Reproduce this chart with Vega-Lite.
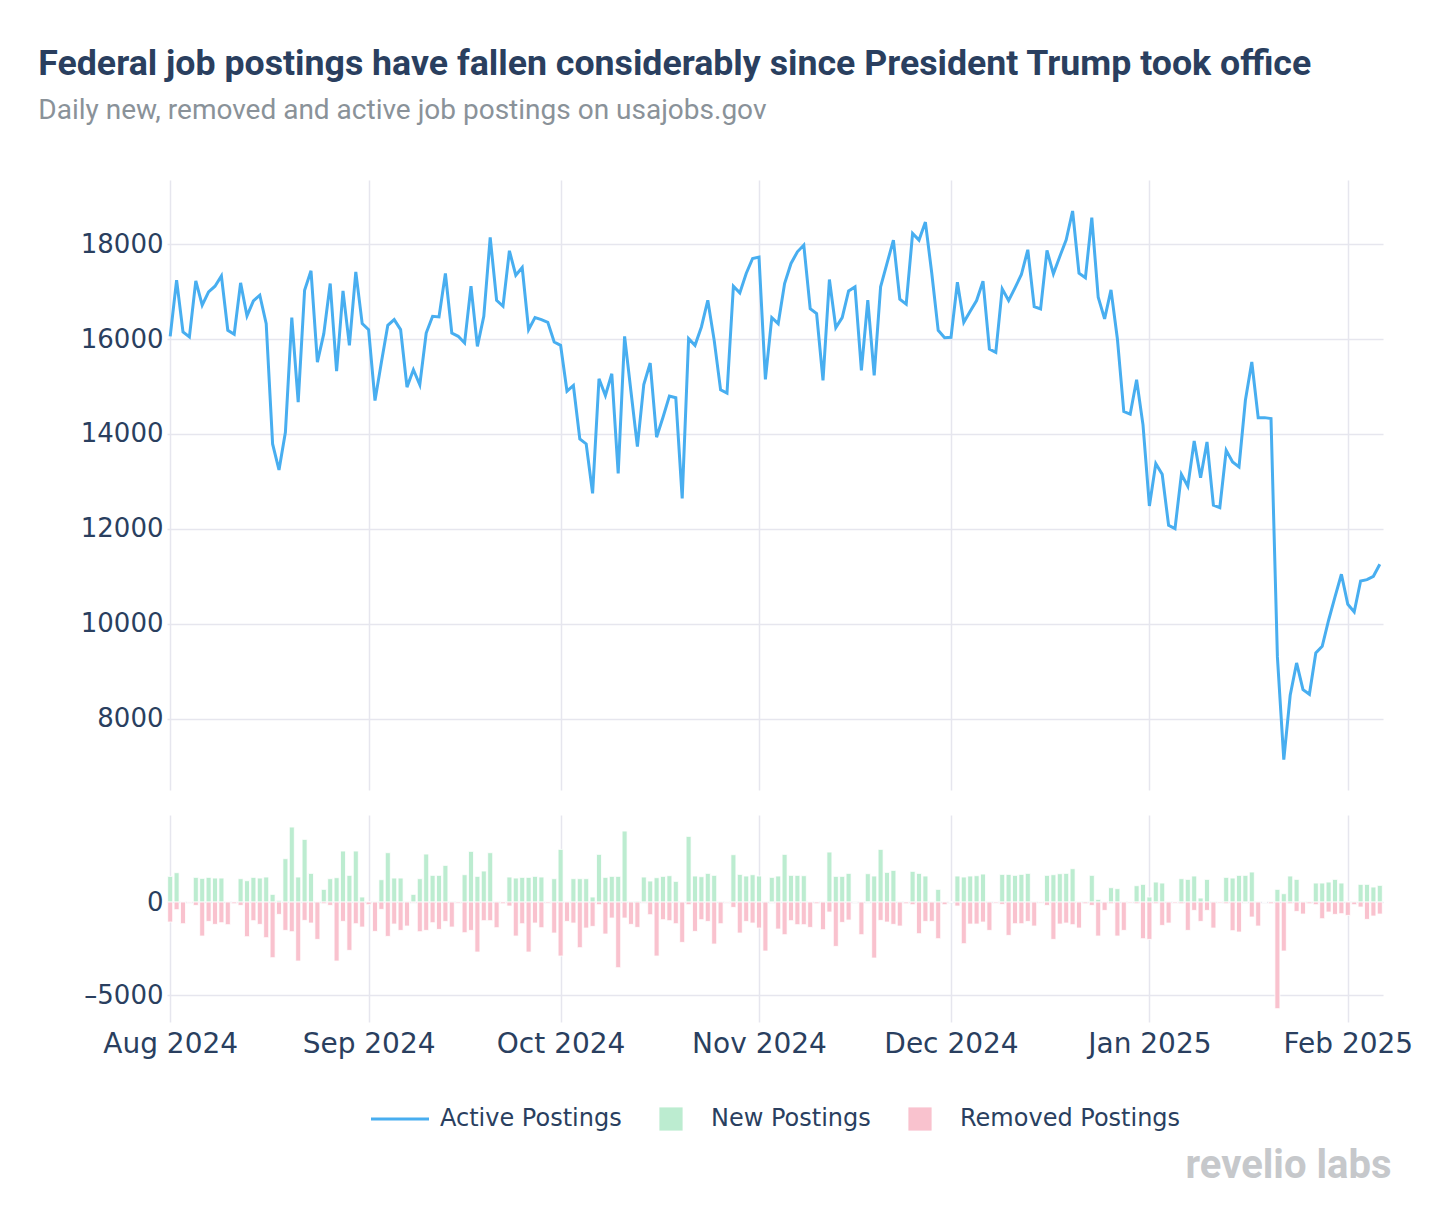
{
"$schema": "https://vega.github.io/schema/vega-lite/v6.json",
"background": "white",
"padding": {"left": 38, "top": 46, "right": 40, "bottom": 30},
"title": {"text": "Federal job postings have fallen considerably since President Trump took office", "subtitle": "Daily new, removed and active job postings on usajobs.gov", "anchor": "start", "frame": "bounds", "dx": -42, "font": "Roboto", "fontSize": 35.7, "fontWeight": "bold", "color": "#2a3f5f", "subtitleFont": "Roboto", "subtitleFontSize": 28, "subtitleColor": "#8a9299", "subtitlePadding": 14, "offset": 54},
"data": {"format": {"parse": {"date": "date:'%Y-%m-%d'"}}, "values": [
{"date":"2024-08-01","active":16057,"new":1380,"removed":-1075},
{"date":"2024-08-02","active":17240,"new":1577,"removed":-412},
{"date":"2024-08-03","active":16150,"new":0,"removed":-1165},
{"date":"2024-08-04","active":16043,"new":0,"removed":-40},
{"date":"2024-08-05","active":17226,"new":1326,"removed":-180},
{"date":"2024-08-06","active":16712,"new":1272,"removed":-1828},
{"date":"2024-08-07","active":16993,"new":1326,"removed":-1039},
{"date":"2024-08-08","active":17113,"new":1290,"removed":-1200},
{"date":"2024-08-09","active":17331,"new":1290,"removed":-1111},
{"date":"2024-08-10","active":16184,"new":0,"removed":-1218},
{"date":"2024-08-11","active":16100,"new":0,"removed":-90},
{"date":"2024-08-12","active":17184,"new":1254,"removed":-180},
{"date":"2024-08-13","active":16486,"new":1147,"removed":-1864},
{"date":"2024-08-14","active":16803,"new":1326,"removed":-1003},
{"date":"2024-08-15","active":16923,"new":1290,"removed":-1200},
{"date":"2024-08-16","active":16325,"new":1344,"removed":-1917},
{"date":"2024-08-17","active":13790,"new":412,"removed":-2993},
{"date":"2024-08-18","active":13241,"new":90,"removed":-663},
{"date":"2024-08-19","active":14036,"new":2330,"removed":-1523},
{"date":"2024-08-20","active":16451,"new":4032,"removed":-1595},
{"date":"2024-08-21","active":14670,"new":1344,"removed":-3172},
{"date":"2024-08-22","active":17028,"new":3369,"removed":-986},
{"date":"2024-08-23","active":17437,"new":1541,"removed":-1129},
{"date":"2024-08-24","active":15515,"new":0,"removed":-2007},
{"date":"2024-08-25","active":16113,"new":681,"removed":-90},
{"date":"2024-08-26","active":17170,"new":1254,"removed":-180},
{"date":"2024-08-27","active":15325,"new":1308,"removed":-3172},
{"date":"2024-08-28","active":17014,"new":2742,"removed":-1039},
{"date":"2024-08-29","active":15867,"new":1434,"removed":-2598},
{"date":"2024-08-30","active":17416,"new":2742,"removed":-1165},
{"date":"2024-08-31","active":16325,"new":269,"removed":-1344},
{"date":"2024-09-01","active":16198,"new":0,"removed":-143},
{"date":"2024-09-02","active":14705,"new":36,"removed":-1577},
{"date":"2024-09-03","active":15511,"new":1200,"removed":-394},
{"date":"2024-09-04","active":16289,"new":2652,"removed":-1846},
{"date":"2024-09-05","active":16409,"new":1290,"removed":-1183},
{"date":"2024-09-06","active":16198,"new":1290,"removed":-1523},
{"date":"2024-09-07","active":14987,"new":40,"removed":-1290},
{"date":"2024-09-08","active":15353,"new":412,"removed":-40},
{"date":"2024-09-09","active":15036,"new":1254,"removed":-1595},
{"date":"2024-09-10","active":16127,"new":2580,"removed":-1523},
{"date":"2024-09-11","active":16479,"new":1434,"removed":-1111},
{"date":"2024-09-12","active":16465,"new":1434,"removed":-1470},
{"date":"2024-09-13","active":17380,"new":1971,"removed":-1039},
{"date":"2024-09-14","active":16127,"new":40,"removed":-1344},
{"date":"2024-09-15","active":16057,"new":20,"removed":-60},
{"date":"2024-09-16","active":15916,"new":1469,"removed":-1649},
{"date":"2024-09-17","active":17113,"new":2724,"removed":-1523},
{"date":"2024-09-18","active":15846,"new":1380,"removed":-2688},
{"date":"2024-09-19","active":16479,"new":1667,"removed":-1003},
{"date":"2024-09-20","active":18141,"new":2652,"removed":-1003},
{"date":"2024-09-21","active":16817,"new":40,"removed":-1380},
{"date":"2024-09-22","active":16691,"new":0,"removed":-90},
{"date":"2024-09-23","active":17859,"new":1344,"removed":-215},
{"date":"2024-09-24","active":17345,"new":1290,"removed":-1828},
{"date":"2024-09-25","active":17507,"new":1326,"removed":-1165},
{"date":"2024-09-26","active":16198,"new":1326,"removed":-2688},
{"date":"2024-09-27","active":16451,"new":1380,"removed":-1129},
{"date":"2024-09-28","active":16409,"new":1344,"removed":-1380},
{"date":"2024-09-29","active":16353,"new":20,"removed":-60},
{"date":"2024-09-30","active":15937,"new":1254,"removed":-1667},
{"date":"2024-10-01","active":15867,"new":2831,"removed":-2903},
{"date":"2024-10-02","active":14902,"new":36,"removed":-1039},
{"date":"2024-10-03","active":15022,"new":1254,"removed":-1129},
{"date":"2024-10-04","active":13896,"new":1254,"removed":-2455},
{"date":"2024-10-05","active":13790,"new":1254,"removed":-1398},
{"date":"2024-10-06","active":12748,"new":269,"removed":-1308},
{"date":"2024-10-07","active":15163,"new":2563,"removed":-143},
{"date":"2024-10-08","active":14811,"new":1326,"removed":-1720},
{"date":"2024-10-09","active":15269,"new":1380,"removed":-860},
{"date":"2024-10-10","active":13171,"new":1380,"removed":-3530},
{"date":"2024-10-11","active":16057,"new":3817,"removed":-860},
{"date":"2024-10-12","active":14890,"new":36,"removed":-1200},
{"date":"2024-10-13","active":13734,"new":50,"removed":-1362},
{"date":"2024-10-14","active":15043,"new":1344,"removed":-40},
{"date":"2024-10-15","active":15494,"new":1129,"removed":-681},
{"date":"2024-10-16","active":13931,"new":1308,"removed":-2903},
{"date":"2024-10-17","active":14353,"new":1380,"removed":-950},
{"date":"2024-10-18","active":14797,"new":1416,"removed":-1003},
{"date":"2024-10-19","active":14762,"new":1111,"removed":-1165},
{"date":"2024-10-20","active":12643,"new":0,"removed":-2168},
{"date":"2024-10-21","active":16008,"new":3530,"removed":-143},
{"date":"2024-10-22","active":15867,"new":1398,"removed":-1577},
{"date":"2024-10-23","active":16254,"new":1362,"removed":-950},
{"date":"2024-10-24","active":16817,"new":1541,"removed":-1039},
{"date":"2024-10-25","active":15972,"new":1434,"removed":-2258},
{"date":"2024-10-26","active":14930,"new":36,"removed":-1165},
{"date":"2024-10-27","active":14860,"new":20,"removed":-40},
{"date":"2024-10-28","active":17113,"new":2545,"removed":-287},
{"date":"2024-10-29","active":16972,"new":1487,"removed":-1667},
{"date":"2024-10-30","active":17380,"new":1398,"removed":-1039},
{"date":"2024-10-31","active":17697,"new":1469,"removed":-1129},
{"date":"2024-11-01","active":17725,"new":1398,"removed":-1398},
{"date":"2024-11-02","active":15149,"new":36,"removed":-2634},
{"date":"2024-11-03","active":16451,"new":1326,"removed":-30},
{"date":"2024-11-04","active":16324,"new":1398,"removed":-1451},
{"date":"2024-11-05","active":17169,"new":2563,"removed":-1756},
{"date":"2024-11-06","active":17592,"new":1434,"removed":-1003},
{"date":"2024-11-07","active":17838,"new":1434,"removed":-1218},
{"date":"2024-11-08","active":17979,"new":1416,"removed":-1218},
{"date":"2024-11-09","active":16641,"new":0,"removed":-1362},
{"date":"2024-11-10","active":16536,"new":0,"removed":-90},
{"date":"2024-11-11","active":15128,"new":36,"removed":-1487},
{"date":"2024-11-12","active":17254,"new":2688,"removed":-538},
{"date":"2024-11-13","active":16240,"new":1380,"removed":-2383},
{"date":"2024-11-14","active":16451,"new":1380,"removed":-1093},
{"date":"2024-11-15","active":17014,"new":1541,"removed":-968},
{"date":"2024-11-16","active":17099,"new":36,"removed":-20},
{"date":"2024-11-17","active":15339,"new":0,"removed":-1756},
{"date":"2024-11-18","active":16817,"new":1523,"removed":0},
{"date":"2024-11-19","active":15233,"new":1398,"removed":-3010},
{"date":"2024-11-20","active":17099,"new":2831,"removed":-986},
{"date":"2024-11-21","active":17592,"new":1595,"removed":-1075},
{"date":"2024-11-22","active":18084,"new":1702,"removed":-1200},
{"date":"2024-11-23","active":16838,"new":36,"removed":-1290},
{"date":"2024-11-24","active":16733,"new":0,"removed":-90},
{"date":"2024-11-25","active":18225,"new":1649,"removed":-143},
{"date":"2024-11-26","active":18084,"new":1541,"removed":-1702},
{"date":"2024-11-27","active":18463,"new":1398,"removed":-1039},
{"date":"2024-11-28","active":17380,"new":36,"removed":-1039},
{"date":"2024-11-29","active":16183,"new":681,"removed":-1971},
{"date":"2024-11-30","active":16029,"new":0,"removed":-143},
{"date":"2024-12-01","active":16036,"new":0,"removed":0},
{"date":"2024-12-02","active":17197,"new":1398,"removed":-215},
{"date":"2024-12-03","active":16353,"new":1344,"removed":-2240},
{"date":"2024-12-04","active":16585,"new":1398,"removed":-1183},
{"date":"2024-12-05","active":16810,"new":1416,"removed":-1183},
{"date":"2024-12-06","active":17219,"new":1505,"removed":-1075},
{"date":"2024-12-07","active":15789,"new":36,"removed":-1523},
{"date":"2024-12-08","active":15719,"new":0,"removed":-60},
{"date":"2024-12-09","active":17057,"new":1487,"removed":-125},
{"date":"2024-12-10","active":16810,"new":1487,"removed":-1792},
{"date":"2024-12-11","active":17078,"new":1434,"removed":-1165},
{"date":"2024-12-12","active":17359,"new":1487,"removed":-1165},
{"date":"2024-12-13","active":17880,"new":1541,"removed":-1039},
{"date":"2024-12-14","active":16684,"new":36,"removed":-1290},
{"date":"2024-12-15","active":16634,"new":0,"removed":-50},
{"date":"2024-12-16","active":17866,"new":1434,"removed":-180},
{"date":"2024-12-17","active":17373,"new":1469,"removed":-2007},
{"date":"2024-12-18","active":17740,"new":1523,"removed":-1183},
{"date":"2024-12-19","active":18092,"new":1541,"removed":-1129},
{"date":"2024-12-20","active":18697,"new":1792,"removed":-1218},
{"date":"2024-12-21","active":17387,"new":36,"removed":-1398},
{"date":"2024-12-22","active":17289,"new":36,"removed":-90},
{"date":"2024-12-23","active":18556,"new":1434,"removed":-180},
{"date":"2024-12-24","active":16881,"new":143,"removed":-1828},
{"date":"2024-12-25","active":16423,"new":0,"removed":-448},
{"date":"2024-12-26","active":17035,"new":771,"removed":-90},
{"date":"2024-12-27","active":16001,"new":717,"removed":-1828},
{"date":"2024-12-28","active":14473,"new":20,"removed":-1523},
{"date":"2024-12-29","active":14417,"new":0,"removed":-50},
{"date":"2024-12-30","active":15142,"new":878,"removed":-90},
{"date":"2024-12-31","active":14191,"new":950,"removed":-1971},
{"date":"2025-01-01","active":12484,"new":269,"removed":-2007},
{"date":"2025-01-02","active":13375,"new":1075,"removed":-90},
{"date":"2025-01-03","active":13150,"new":1021,"removed":-1254},
{"date":"2025-01-04","active":12076,"new":36,"removed":-1129},
{"date":"2025-01-05","active":12006,"new":0,"removed":-60},
{"date":"2025-01-06","active":13150,"new":1254,"removed":-90},
{"date":"2025-01-07","active":12898,"new":1218,"removed":-1523},
{"date":"2025-01-08","active":13853,"new":1398,"removed":-448},
{"date":"2025-01-09","active":13080,"new":215,"removed":-1039},
{"date":"2025-01-10","active":13832,"new":1218,"removed":-448},
{"date":"2025-01-11","active":12498,"new":36,"removed":-1398},
{"date":"2025-01-12","active":12449,"new":0,"removed":-50},
{"date":"2025-01-13","active":13656,"new":1326,"removed":-90},
{"date":"2025-01-14","active":13410,"new":1290,"removed":-1541},
{"date":"2025-01-15","active":13305,"new":1434,"removed":-1613},
{"date":"2025-01-16","active":14709,"new":1434,"removed":-30},
{"date":"2025-01-17","active":15516,"new":1613,"removed":-806},
{"date":"2025-01-18","active":14344,"new":36,"removed":-1290},
{"date":"2025-01-19","active":14344,"new":0,"removed":0},
{"date":"2025-01-20","active":14323,"new":36,"removed":-90},
{"date":"2025-01-21","active":9304,"new":681,"removed":-5734},
{"date":"2025-01-22","active":7141,"new":448,"removed":-2634},
{"date":"2025-01-23","active":8496,"new":1398,"removed":-90},
{"date":"2025-01-24","active":9177,"new":1218,"removed":-502},
{"date":"2025-01-25","active":8615,"new":36,"removed":-645},
{"date":"2025-01-26","active":8517,"new":36,"removed":-90},
{"date":"2025-01-27","active":9388,"new":1021,"removed":-143},
{"date":"2025-01-28","active":9528,"new":1021,"removed":-896},
{"date":"2025-01-29","active":10076,"new":1075,"removed":-538},
{"date":"2025-01-30","active":10567,"new":1218,"removed":-663},
{"date":"2025-01-31","active":11045,"new":1021,"removed":-627},
{"date":"2025-02-01","active":10413,"new":36,"removed":-717},
{"date":"2025-02-02","active":10251,"new":36,"removed":-143},
{"date":"2025-02-03","active":10904,"new":950,"removed":-269},
{"date":"2025-02-04","active":10932,"new":950,"removed":-932},
{"date":"2025-02-05","active":11002,"new":806,"removed":-753},
{"date":"2025-02-06","active":11255,"new":896,"removed":-645}
]},
"spacing": 25,
"resolve": {"scale": {"color": "shared"}, "legend": {"color": "shared"}},
"vconcat": [
{
"width": 1216, "height": 610,
"mark": {"type": "line", "strokeWidth": 3},
"encoding": {
"x": {"field": "date", "type": "temporal", "scale": {"padding": 0, "domain": [{"year": 2024, "month": 7, "date": 31, "hours": 12}, {"year": 2025, "month": 2, "date": 6, "hours": 12}]}, "axis": {"title": null, "labels": false, "ticks": false, "domain": false, "grid": true, "tickCount": {"interval": "month", "step": 1}}},
"y": {"field": "active", "type": "quantitative", "scale": {"domain": [6500, 19350], "nice": false, "zero": false}, "axis": {"title": null, "values": [8000, 10000, 12000, 14000, 16000, 18000], "labelExpr": "'' + datum.value", "domain": false, "ticks": false, "labelPadding": 4, "labelFontSize": 26}},
"color": {"datum": "active", "type": "nominal", "scale": {"domain": ["active", "new", "removed"], "range": ["#48aef0", "#bcecd0", "#f9c2ce"]},
 "legend": {"orient": "none", "legendX": 204, "legendY": 927, "direction": "horizontal", "title": null, "labelExpr": "datum.label === 'active' ? 'Active Postings' : datum.label === 'new' ? 'New Postings' : 'Removed Postings'", "labelLimit": 400, "symbolSize": 3364, "symbolOffset": 17, "labelOffset": 28, "columnPadding": 20,
  "encode": {"symbols": {"update": {"shape": {"signal": "datum.value === 'active' ? 'M-1,0H1' : 'M-0.4,-0.4H0.4V0.4H-0.4Z'"}, "stroke": {"signal": "datum.value === 'active' ? '#48aef0' : 'transparent'"}, "strokeWidth": {"signal": "datum.value === 'active' ? 3 : 0"}, "fill": {"signal": "datum.value === 'new' ? '#bcecd0' : datum.value === 'removed' ? '#f9c2ce' : 'transparent'"}, "opacity": {"value": 1}, "fillOpacity": {"value": 1}, "strokeOpacity": {"value": 1}}}}}}
}
},
{
"width": 1216, "height": 207,
"transform": [{"fold": ["new", "removed"], "as": ["series", "value"]}],
"mark": {"type": "bar", "width": 5, "stroke": "white", "strokeWidth": 0.8},
"encoding": {
"x": {"field": "date", "type": "temporal", "scale": {"padding": 0, "domain": [{"year": 2024, "month": 7, "date": 31, "hours": 12}, {"year": 2025, "month": 2, "date": 6, "hours": 12}]}, "axis": {"title": "revelio labs", "titleAnchor": null, "titleAlign": "right", "titleX": 1224, "titleY": 155, "titleBaseline": "alphabetic", "titleFont": "Roboto", "titleFontSize": 40, "titleFontWeight": "bold", "titleColor": "#c6c8cb", "format": "%b %Y", "labelFontSize": 28, "labelPadding": 8, "ticks": false, "domain": false, "grid": true, "tickCount": {"interval": "month", "step": 1}}},
"y": {"field": "value", "type": "quantitative", "stack": null, "scale": {"domain": [-6450, 4680], "nice": false, "zero": false}, "axis": {"title": null, "values": [-5000, 0], "labelExpr": "datum.value < 0 ? '–' + abs(datum.value) : '' + datum.value", "domain": false, "ticks": false, "labelPadding": 4, "labelFontSize": 26}},
"color": {"field": "series", "type": "nominal", "scale": {"domain": ["active", "new", "removed"], "range": ["#48aef0", "#bcecd0", "#f9c2ce"]},
 "legend": {"orient": "none", "legendX": 204, "legendY": 927, "direction": "horizontal", "title": null, "labelExpr": "datum.label === 'active' ? 'Active Postings' : datum.label === 'new' ? 'New Postings' : 'Removed Postings'", "labelLimit": 400, "symbolSize": 3364, "symbolOffset": 17, "labelOffset": 28, "columnPadding": 20,
  "encode": {"symbols": {"update": {"shape": {"signal": "datum.value === 'active' ? 'M-1,0H1' : 'M-0.4,-0.4H0.4V0.4H-0.4Z'"}, "stroke": {"signal": "datum.value === 'active' ? '#48aef0' : 'transparent'"}, "strokeWidth": {"signal": "datum.value === 'active' ? 3 : 0"}, "fill": {"signal": "datum.value === 'new' ? '#bcecd0' : datum.value === 'removed' ? '#f9c2ce' : 'transparent'"}, "opacity": {"value": 1}, "fillOpacity": {"value": 1}, "strokeOpacity": {"value": 1}}}}}}
}
}
],
"config": {
"view": {"stroke": null},
"axis": {"gridColor": "#e6e6ee", "gridWidth": 1.5, "labelFont": "DejaVu Sans", "labelColor": "#2a3f5f"},
"legend": {"labelFont": "DejaVu Sans", "labelFontSize": 24, "labelColor": "#2a3f5f"}
}
}
